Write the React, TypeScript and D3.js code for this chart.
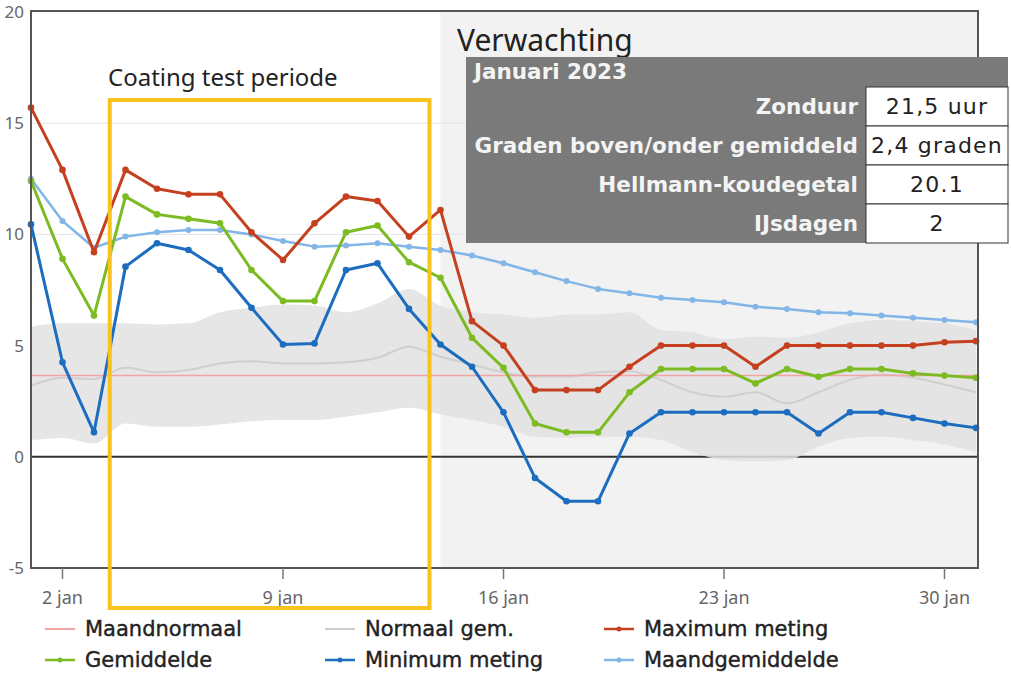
import React, { useEffect, useRef } from 'react'
import * as d3 from 'd3'

const width = 1011
const height = 675

// dagen in januari 2023
const dagen = d3.range(1, 32)

const maxMeting = [15.7, 12.9, 9.2, 12.9, 12.05, 11.8, 11.8, 10.1, 8.85, 10.5, 11.7, 11.5, 9.9, 11.1, 6.1, 5.0, 3.0, 3.0, 3.0, 4.05, 5.0, 5.0, 5.0, 4.05, 5.0, 5.0, 5.0, 5.0, 5.0, 5.15, 5.2]
const gemiddelde = [12.4, 8.9, 6.35, 11.7, 10.9, 10.7, 10.5, 8.4, 7.0, 7.0, 10.1, 10.4, 8.75, 8.05, 5.35, 4.0, 1.5, 1.1, 1.1, 2.9, 3.95, 3.95, 3.95, 3.3, 3.95, 3.6, 3.95, 3.95, 3.75, 3.65, 3.55]
const minMeting = [10.45, 4.25, 1.1, 8.55, 9.6, 9.3, 8.4, 6.7, 5.05, 5.1, 8.4, 8.7, 6.65, 5.05, 4.05, 2.0, -0.95, -2.0, -2.0, 1.05, 2.0, 2.0, 2.0, 2.0, 2.0, 1.05, 2.0, 2.0, 1.75, 1.5, 1.3]
const maandGemiddelde = [12.5, 10.6, 9.4, 9.9, 10.1, 10.2, 10.2, 10.0, 9.7, 9.45, 9.5, 9.6, 9.45, 9.3, 9.05, 8.7, 8.3, 7.9, 7.55, 7.35, 7.15, 7.05, 6.95, 6.75, 6.65, 6.5, 6.45, 6.35, 6.25, 6.15, 6.05]
const normaalGem = [3.2, 3.55, 3.5, 4.0, 3.8, 3.9, 4.2, 4.3, 4.2, 4.2, 4.25, 4.45, 4.95, 4.5, 4.15, 3.8, 3.6, 3.6, 3.8, 3.85, 3.45, 2.9, 2.7, 2.9, 2.4, 2.9, 3.45, 3.7, 3.55, 3.25, 2.9]
const normaalHoog = [5.85, 6.0, 6.0, 6.0, 5.95, 6.0, 6.5, 6.7, 6.85, 6.8, 6.5, 6.9, 7.55, 6.8, 6.5, 6.4, 6.25, 6.4, 6.4, 6.5, 5.7, 5.6, 5.3, 5.4, 5.35, 5.6, 6.0, 6.15, 6.1, 6.0, 5.7]
const normaalLaag = [0.75, 0.85, 0.6, 1.5, 1.35, 1.35, 1.45, 1.6, 1.65, 1.65, 1.8, 2.0, 2.2, 1.9, 1.65, 1.35, 0.9, 0.85, 0.9, 0.9, 0.75, 0.2, -0.15, -0.2, -0.15, 0.45, 0.85, 0.9, 0.75, 0.55, 0.2]
const maandNormaal = 3.65

const yTicks = [-5, 0, 5, 10, 15, 20]
const xTicks = [2, 9, 16, 23, 30]

const verwachtingVanaf = 14
const coatingPeriode = [3.5, 13.65]

const tabelTitel = 'Januari 2023'
const tabelLabels = ['Zonduur', 'Graden boven/onder gemiddeld', 'Hellmann-koudegetal', 'IJsdagen']
const tabelWaarden = ['21,5 uur', '2,4 graden', '20.1', '2']

const kleuren = {
  max: '#c4401f',
  gem: '#7cbb22',
  min: '#1c6dbf',
  maandGem: '#82b5e8',
  normaal: '#cfcfcf',
  maandNormaal: '#f2a3a3',
  band: '#e2e2e2',
  geel: '#f7c31c'
}

const series = [
  { naam: 'Maandgemiddelde', waarden: maandGemiddelde, kleur: kleuren.maandGem, breedte: 2.5, r: 3 },
  { naam: 'Maximum meting', waarden: maxMeting, kleur: kleuren.max, breedte: 3, r: 3.3 },
  { naam: 'Gemiddelde', waarden: gemiddelde, kleur: kleuren.gem, breedte: 3, r: 3.3 },
  { naam: 'Minimum meting', waarden: minMeting, kleur: kleuren.min, breedte: 3, r: 3.3 }
]

const legenda = [
  { naam: 'Maandnormaal', kleur: kleuren.maandNormaal, punt: false },
  { naam: 'Normaal gem.', kleur: kleuren.normaal, punt: false },
  { naam: 'Maximum meting', kleur: kleuren.max, punt: true },
  { naam: 'Gemiddelde', kleur: kleuren.gem, punt: true },
  { naam: 'Minimum meting', kleur: kleuren.min, punt: true },
  { naam: 'Maandgemiddelde', kleur: kleuren.maandGem, punt: true }
]

export default function App() {
  const svgRef = useRef<SVGSVGElement>(null)

  useEffect(() => {
    const svg = d3.select(svgRef.current)
    svg.selectAll('*').remove()

    const x = d3.scaleLinear().domain([1, 31]).range([31, 976])
    const y = d3.scaleLinear().domain([-5, 20]).range([568, 12])
    const plot = { left: 31, right: 978, top: 11, bottom: 568 }

    svg.append('rect').attr('width', width).attr('height', height).attr('fill', '#fff')

    // verwachting achtergrond
    svg.append('rect')
      .attr('x', x(verwachtingVanaf))
      .attr('y', plot.top)
      .attr('width', plot.right - x(verwachtingVanaf))
      .attr('height', plot.bottom - plot.top)
      .attr('fill', '#f2f2f2')

    // gridlijnen
    svg.append('g')
      .selectAll('line')
      .data(yTicks.filter(d => d > 0 && d < 20))
      .join('line')
      .attr('x1', plot.left).attr('x2', plot.right)
      .attr('y1', d => y(d)).attr('y2', d => y(d))
      .attr('stroke', '#e3e3e3')
      .attr('stroke-width', 1)

    // nul lijn
    svg.append('line')
      .attr('x1', plot.left).attr('x2', plot.right)
      .attr('y1', y(0)).attr('y2', y(0))
      .attr('stroke', '#333')
      .attr('stroke-width', 2)

    // normaal band
    const band = d3.area<number>()
      .x(d => x(d))
      .y0((d, i) => y(normaalLaag[i]))
      .y1((d, i) => y(normaalHoog[i]))
      .curve(d3.curveMonotoneX)

    svg.append('path')
      .attr('d', band(dagen))
      .attr('fill', kleuren.band)
      .attr('opacity', 0.85)

    const lijn = (waarden: number[]) => d3.line<number>()
      .x(d => x(d))
      .y((d, i) => y(waarden[i]))

    svg.append('path')
      .attr('d', lijn(normaalGem).curve(d3.curveMonotoneX)(dagen))
      .attr('fill', 'none')
      .attr('stroke', kleuren.normaal)
      .attr('stroke-width', 2)

    svg.append('line')
      .attr('x1', plot.left).attr('x2', plot.right)
      .attr('y1', y(maandNormaal)).attr('y2', y(maandNormaal))
      .attr('stroke', kleuren.maandNormaal)
      .attr('stroke-width', 1.5)

    series.forEach(s => {
      const g = svg.append('g')
      g.append('path')
        .attr('d', lijn(s.waarden)(dagen))
        .attr('fill', 'none')
        .attr('stroke', s.kleur)
        .attr('stroke-width', s.breedte)
        .attr('stroke-linejoin', 'round')
      g.selectAll('circle')
        .data(dagen)
        .join('circle')
        .attr('cx', d => x(d))
        .attr('cy', (d, i) => y(s.waarden[i]))
        .attr('r', s.r)
        .attr('fill', s.kleur)
    })

    // assen / kader
    svg.append('rect')
      .attr('x', plot.left).attr('y', plot.top)
      .attr('width', plot.right - plot.left)
      .attr('height', plot.bottom - plot.top)
      .attr('fill', 'none')
      .attr('stroke', '#555')
      .attr('stroke-width', 2)

    svg.append('g')
      .selectAll('text')
      .data(yTicks)
      .join('text')
      .attr('x', 24)
      .attr('y', d => y(d) + 6)
      .attr('text-anchor', 'end')
      .attr('font-family', 'Noto Sans, sans-serif')
      .attr('font-size', 17)
      .attr('fill', '#666')
      .text(d => d)

    const xas = svg.append('g')
    xas.selectAll('line')
      .data(xTicks)
      .join('line')
      .attr('x1', d => x(d)).attr('x2', d => x(d))
      .attr('y1', plot.bottom).attr('y2', plot.bottom + 11)
      .attr('stroke', '#777')
      .attr('stroke-width', 1.5)
    xas.selectAll('text')
      .data(xTicks)
      .join('text')
      .attr('x', d => x(d))
      .attr('y', 604)
      .attr('text-anchor', 'middle')
      .attr('font-family', 'Noto Sans, sans-serif')
      .attr('font-size', 18)
      .attr('fill', '#666')
      .text(d => `${d} jan`)

    // coating test periode
    svg.append('rect')
      .attr('x', x(coatingPeriode[0]))
      .attr('y', 100)
      .attr('width', x(coatingPeriode[1]) - x(coatingPeriode[0]))
      .attr('height', 508)
      .attr('fill', 'none')
      .attr('stroke', kleuren.geel)
      .attr('stroke-width', 4)

    svg.append('text')
      .attr('x', 108).attr('y', 86)
      .attr('font-family', 'Noto Sans, sans-serif')
      .attr('font-size', 24)
      .attr('fill', '#222')
      .text('Coating test periode')

    svg.append('text')
      .attr('x', 457).attr('y', 51)
      .attr('font-family', 'Noto Sans, sans-serif')
      .attr('font-size', 30)
      .attr('fill', '#222')
      .text('Verwachting')

    // tabel
    const tabel = svg.append('g')
    const tx = 466, tw = 542, ty = 57, rijTop = 87, rijH = 39, celX = 866
    tabel.append('rect')
      .attr('x', tx).attr('y', ty)
      .attr('width', tw).attr('height', rijTop + rijH * tabelLabels.length - ty)
      .attr('fill', '#7a7a7a')
    tabel.append('text')
      .attr('x', tx + 8).attr('y', ty + 22)
      .attr('font-family', 'DejaVu Sans, sans-serif')
      .attr('font-weight', 'bold')
      .attr('font-size', 21.5)
      .attr('fill', '#f4f4f4')
      .text(tabelTitel)
    tabelLabels.forEach((l, i) => {
      const ry = rijTop + i * rijH
      tabel.append('rect')
        .attr('x', celX).attr('y', ry)
        .attr('width', tx + tw - celX).attr('height', rijH)
        .attr('fill', '#fff')
        .attr('stroke', '#333')
        .attr('stroke-width', 1)
      tabel.append('text')
        .attr('x', celX - 8).attr('y', ry + 27)
        .attr('text-anchor', 'end')
        .attr('font-family', 'DejaVu Sans, sans-serif')
        .attr('font-weight', 'bold')
        .attr('font-size', 21.5)
        .attr('fill', '#f4f4f4')
        .text(l)
      tabel.append('text')
        .attr('x', (celX + tx + tw) / 2).attr('y', ry + 27)
        .attr('text-anchor', 'middle')
        .attr('font-family', 'DejaVu Sans, sans-serif')
        .attr('font-size', 22)
        .attr('letter-spacing', 1.2)
        .attr('fill', '#222')
        .text(tabelWaarden[i])
    })

    // legenda
    const kolommen = [45, 325, 604]
    const rijen = [629, 660]
    const leg = svg.append('g')
    legenda.forEach((l, i) => {
      const lx = kolommen[i % 3]
      const ly = rijen[Math.floor(i / 3)]
      leg.append('line')
        .attr('x1', lx).attr('x2', lx + 30)
        .attr('y1', ly).attr('y2', ly)
        .attr('stroke', l.kleur)
        .attr('stroke-width', l.punt ? 2.5 : 2)
      if (l.punt) {
        leg.append('circle').attr('cx', lx + 15).attr('cy', ly).attr('r', 2.5).attr('fill', l.kleur)
      }
      leg.append('text')
        .attr('x', lx + 40).attr('y', ly + 7)
        .attr('font-family', 'DejaVu Sans, sans-serif')
        .attr('font-size', 21)
        .attr('fill', '#222')
        .attr('stroke', '#222')
        .attr('stroke-width', 0.4)
        .text(l.naam)
    })
  }, [])

  return (
    <svg
      ref={svgRef}
      width={width}
      height={height}
      style={{ position: 'absolute', left: 0, top: 0 }}
    />
  )
}
